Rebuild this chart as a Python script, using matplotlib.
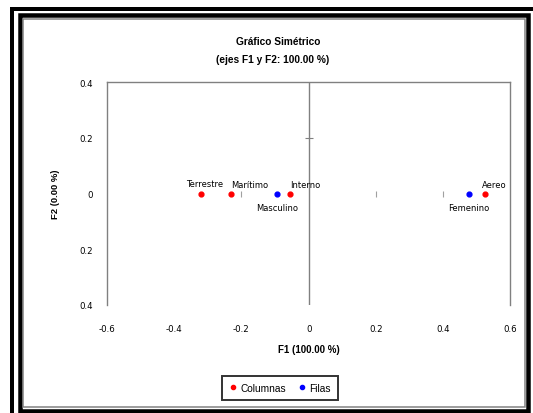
import matplotlib.pyplot as plt
from matplotlib.patches import Rectangle
from matplotlib.lines import Line2D

plt.rcParams['font.family'] = ['Liberation Sans', 'DejaVu Sans']

# datos (F1, F2)
col_names = ['Terrestre', 'Marítimo', 'Interno', 'Aereo']
col_f1 = [-0.321, -0.231, -0.055, 0.525]
col_f2 = [0.0, 0.0, 0.0, 0.0]
row_names = ['Masculino', 'Femenino']
row_f1 = [-0.094, 0.476]
row_f2 = [0.0, 0.0]

xticks = [-0.6, -0.4, -0.2, 0, 0.2, 0.4, 0.6]
xtick_labels = ['-0.6', '-0.4', '-0.2', '0', '0.2', '0.4', '0.6']
yticks = [0.4, 0.2, 0, -0.2, -0.4]
ytick_labels = ['0.4', '0.2', '0', '0.2', '0.4']

W, H = 533, 414
fig = plt.figure(figsize=(W / 100, H / 100), dpi=100)

def px(x, y):
    return x / W, 1 - y / H

def frame(x0, y0, x1, y1, color, lw_px):
    fx0, fy1 = px(x0, y0)
    fx1, fy0 = px(x1, y1)
    fig.patches.append(Rectangle((fx0, fy0), fx1 - fx0, fy1 - fy0, fill=False,
                                 edgecolor=color, linewidth=lw_px * 0.72,
                                 transform=fig.transFigure, figure=fig))

frame(12, 9.5, 545, 425, 'black', 4)
frame(19.5, 16, 528, 411.5, 'black', 4.5)
frame(23, 19.5, 524.5, 407.5, '#808080', 1.5)

ax = fig.add_axes([107 / W, 1 - 305.7 / H, (510.3 - 107) / W, (305.7 - 83.3) / H])
ax.set_xlim(-0.6, 0.6)
ax.set_ylim(-0.4, 0.4)
for s in ['left', 'right', 'top']:
    ax.spines[s].set_color('#808080')
    ax.spines[s].set_linewidth(1.0)
ax.spines['bottom'].set_visible(False)
ax.axvline(0, color='#808080', lw=1.0, zorder=1)

# pequeñas marcas de los ejes que cruzan en el origen
ax.plot([-0.2, 0.2, 0.4], [0, 0, 0], ls='none', marker='|', ms=5, mew=0.8, color='#a0a0a0', zorder=1)
ax.plot([0], [0.2], ls='none', marker='_', ms=6, mew=0.8, color='#808080', zorder=1)

ax.set_xticks(xticks)
ax.set_xticklabels(xtick_labels, family='DejaVu Sans')
ax.set_yticks(yticks)
ax.set_yticklabels(ytick_labels, family='DejaVu Sans')
ax.tick_params(length=0, labelsize=6.2, pad=0)
ax.tick_params(axis='x', pad=14)
ax.tick_params(axis='y', pad=10)

ax.scatter(col_f1, col_f2, s=12, color='#ff0000', zorder=3)
ax.scatter(row_f1, row_f2, s=12, color='#0000ff', zorder=3)

col_place = [('center', 0.018, 0.01), ('left', 0.015, 0.0), ('left', 0.015, 0.0), ('left', 0.015, -0.01)]
for name, x, y, (ha, dy, dx) in zip(col_names, col_f1, col_f2, col_place):
    ax.text(x + dx, y + dy, name, ha=ha, va='bottom', fontsize=6, family='DejaVu Sans')
for name, x, y in zip(row_names, row_f1, row_f2):
    ax.text(x, y - 0.05, name, ha='center', va='center', fontsize=6, family='DejaVu Sans')

ax.set_xlabel('F1 (100.00 %)', fontsize=7, fontweight='bold', labelpad=8)
ax.set_ylabel('F2 (0.00 %)', fontsize=6.8, fontweight='bold', labelpad=14)

fig.text(*px(278, 42), 'Gráfico Simétrico', ha='center', va='center', fontsize=7.3, fontweight='bold')
fig.text(*px(273, 60), '(ejes F1 y F2: 100.00 %)', ha='center', va='center', fontsize=7.3, fontweight='bold')

handles = [Line2D([], [], ls='none', marker='o', ms=3, color='#ff0000'),
           Line2D([], [], ls='none', marker='o', ms=3, color='#0000ff')]
leg = fig.legend(handles, ['Columnas', 'Filas'], loc='center', bbox_to_anchor=px(280, 389),
                 ncol=2, fontsize=7.3, frameon=True, fancybox=False, handlelength=0.8,
                 handletextpad=0.3, columnspacing=1.2, borderpad=0.7)
leg.get_frame().set_edgecolor('black')
leg.get_frame().set_linewidth(1.4)

fig.savefig('out.png', dpi=100)
